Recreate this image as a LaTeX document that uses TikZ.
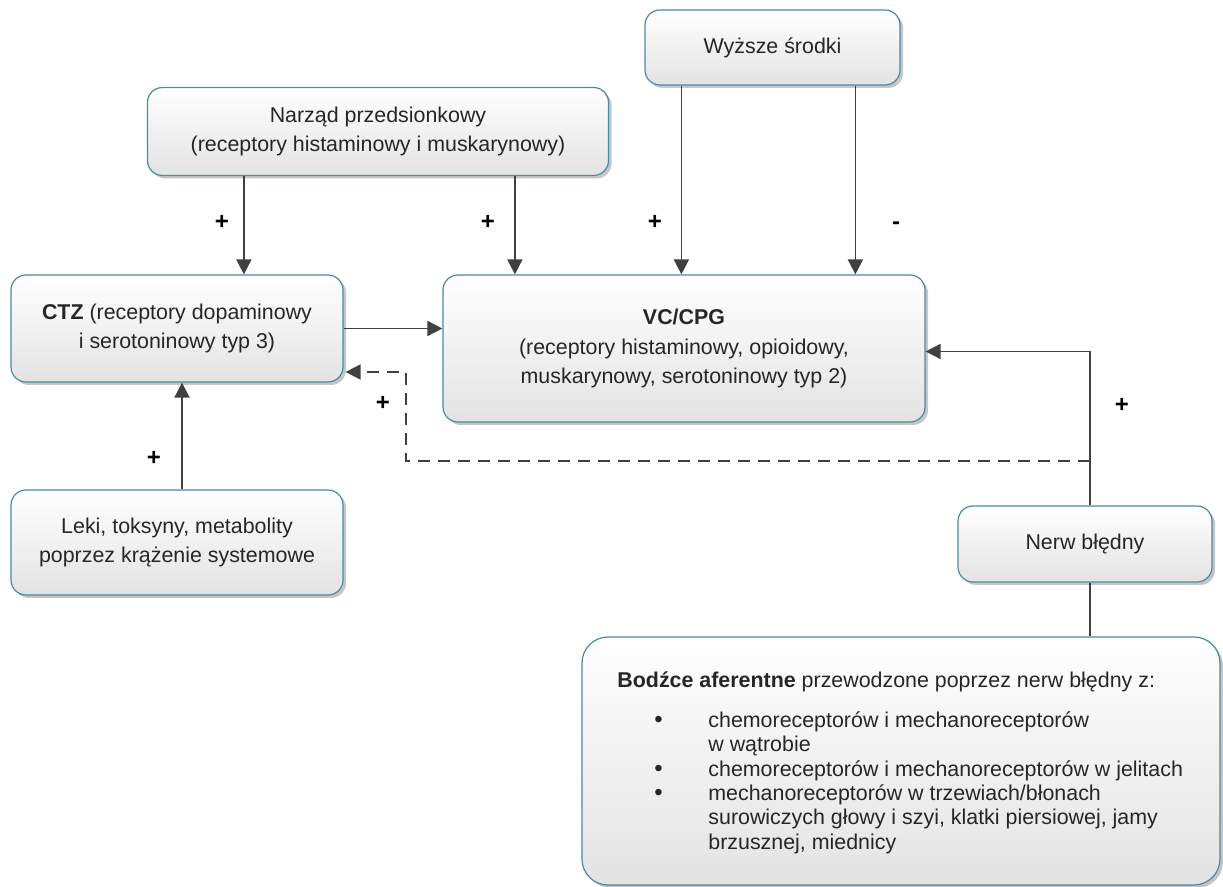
\documentclass[tikz,border=0pt]{standalone}
\usepackage{fontspec}
\setmainfont{Liberation Sans}
\usetikzlibrary{arrows.meta,shadows}
\definecolor{bord}{RGB}{70,140,165}
\definecolor{arr}{RGB}{64,64,64}
\definecolor{txt}{RGB}{38,38,38}
\begin{document}
\begin{tikzpicture}[x=0.5pt,y=-0.5pt,
  box/.style={draw=bord, line width=0.6pt, rounded corners=7.5pt, top color=white, bottom color=gray!22,
    drop shadow={shadow xshift=1.5pt,shadow yshift=-1.5pt,fill=gray!45,opacity=1},
    align=center, font=\fontsize{10.7}{14.3}\selectfont, text=txt, inner sep=0pt},
  plain/.style={align=left, font=\fontsize{10.7}{12.2}\selectfont, text=txt, inner sep=0pt},
  conn/.style={draw=arr, line width=0.9pt, -{Triangle[length=7.5pt,width=7.5pt]}},
  link/.style={draw=arr, line width=0.9pt},
  sign/.style={font=\fontsize{12}{14}\selectfont\bfseries, text=black, inner sep=0pt}]
\useasboundingbox (0,0) rectangle (1223,887);

\node[box, minimum width=127.5pt, minimum height=37.5pt] (wyz) at (772.5,47.5) {Wyższe środki};
\node[box, minimum width=230.5pt, minimum height=44pt] (narz) at (378,131.5) {Narząd przedsionkowy\\(receptory histaminowy i muskarynowy)};
\node[box, minimum width=166pt, minimum height=53.5pt] (ctz) at (177,328.5) {\textbf{CTZ} (receptory dopaminowy\\i serotoninowy typ 3)};
\node[box, minimum width=241pt, minimum height=73.5pt, font=\fontsize{10.7}{14.8}\selectfont] (vc) at (684,348.5) {\textbf{VC/CPG}\\(receptory histaminowy, opioidowy,\\muskarynowy, serotoninowy typ 2)};
\node[box, minimum width=166pt, minimum height=52.5pt] (leki) at (177,542.5) {Leki, toksyny, metabolity\\poprzez krążenie systemowe};
\node[box, minimum width=127pt, minimum height=38pt] (nerw) at (1085,544) {Nerw błędny};
\node[box, rounded corners=13pt, minimum width=319pt, minimum height=124pt] (bod) at (901,761) {};
\node[plain, anchor=west] (bodh) at (617,682) {\textbf{Bodźce aferentne} przewodzone poprzez nerw błędny z:};
\node[plain, anchor=west] (bodb) at (654,783.5) {\strut\large•\\\strut\\\strut\large•\\\strut\large•\\\strut\\\strut};
\node[plain, anchor=west] (bodt) at (708,783.5) {\strut chemoreceptorów i mechanoreceptorów\\\strut w wątrobie\\\strut chemoreceptorów i mechanoreceptorów w jelitach\\\strut mechanoreceptorów w trzewiach/błonach\\\strut surowiczych głowy i szyi, klatki piersiowej, jamy\\\strut brzusznej, miednicy};

% connectors
\draw[conn] ([xshift=48.5pt]narz.south west) -- ([xshift=48.5pt]narz.south west |- ctz.north);
\draw[conn] ([xshift=184pt]narz.south west) -- ([xshift=184pt]narz.south west |- vc.north);
\draw[conn] ([xshift=18.5pt]wyz.south west) -- ([xshift=18.5pt]wyz.south west |- vc.north);
\draw[conn] ([xshift=105.5pt]wyz.south west) -- ([xshift=105.5pt]wyz.south west |- vc.north);
\draw[conn] (ctz.east) -- (ctz.east -| vc.west);
\draw[conn] ([xshift=2.5pt]leki.north) -- ([xshift=2.5pt]leki.north |- ctz.south);
\draw[conn] ([xshift=2.5pt]nerw.north) |- ([yshift=-1.5pt]vc.east);
\coordinate (dj) at (1090,461);
\coordinate (dk) at (406,461);
\draw[conn, dashed, dash pattern=on 6pt off 4pt] (dj) -- (dk) |- ([yshift=-21.75pt,xshift=1pt]ctz.east);
\draw[link] ([xshift=2.5pt]nerw.south) -- ([xshift=2.5pt]nerw.south |- bod.north);

% signs
\node[sign] (s1) at (222,222) {+};
\node[sign] (s2) at (488,222) {+};
\node[sign] (s3) at (655,222) {+};
\node[sign] (s4) at (896,226) {-};
\node[sign] (s5) at (154,458) {+};
\node[sign] (s6) at (383,403) {+};
\node[sign] (s7) at (1122,405) {+};
\end{tikzpicture}
\end{document}
